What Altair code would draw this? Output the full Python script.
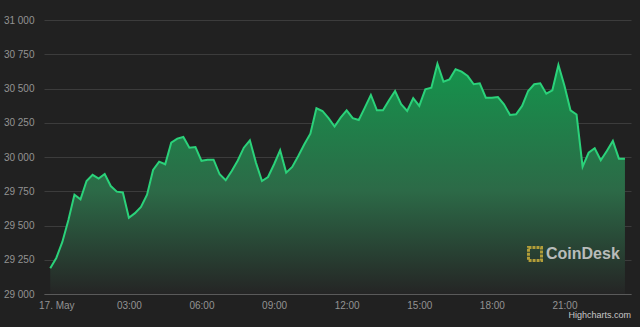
import altair as alt
import pandas as pd

# ---- data (BTC price, 15-minute samples) ----
start_time = "2022-05-16 23:45"
prices = [
    29188, 29263, 29380, 29540, 29725, 29691, 29825, 29870, 29842, 29876,
    29788, 29747, 29741, 29557, 29590, 29635, 29725, 29905, 29966, 29947,
    30105, 30134, 30146, 30068, 30073, 29972, 29980, 29980, 29874, 29830,
    29898, 29975, 30068, 30122, 29959, 29825, 29854, 29947, 30049, 29886,
    29927, 30007, 30093, 30170, 30356, 30336, 30283, 30222, 30287, 30341,
    30283, 30270, 30360, 30453, 30341, 30341, 30414, 30482, 30385, 30336,
    30429, 30373, 30494, 30506, 30681, 30550, 30567, 30640, 30623, 30591,
    30531, 30538, 30433, 30433, 30438, 30385, 30307, 30312, 30373, 30482,
    30531, 30538, 30462, 30487, 30672, 30520, 30341, 30310, 29930, 30031,
    30064, 29976, 30044, 30117, 29988, 29988,
]
y_ticks = [29000, 29250, 29500, 29750, 30000, 30250, 30500, 30750, 31000]
x_tick_times = ["2022-05-17 00:00", "2022-05-17 03:00", "2022-05-17 06:00",
                "2022-05-17 09:00", "2022-05-17 12:00", "2022-05-17 15:00",
                "2022-05-17 18:00", "2022-05-17 21:00"]
x_domain_times = ["2022-05-16 23:29:30", "2022-05-17 23:45"]

times = pd.date_range(start=pd.Timestamp(start_time, tz="UTC"), periods=len(prices), freq="15min")
df = pd.DataFrame({"time": times.strftime("%Y-%m-%dT%H:%M:%SZ"), "price": prices})


def ms(t):
    return int(pd.Timestamp(t, tz="UTC").value // 10**6)


tick_ms = [ms(t) for t in x_tick_times]
dom_ms = [ms(t) for t in x_domain_times]

FONT = "Liberation Sans"
LABEL = "#939393"

x_enc = alt.X(
    "time:T",
    scale=alt.Scale(type="utc", domain=dom_ms, nice=False),
    axis=alt.Axis(
        values=tick_ms,
        labelExpr="utcFormat(datum.value, '%H:%M') == '00:00' ? utcFormat(datum.value, '%d. %b') : utcFormat(datum.value, '%H:%M')",
        grid=False, ticks=False, tickSize=0, domain=True, domainColor="#5a5a5a",
        labelColor=LABEL, labelFont=FONT, labelFontSize=10, labelPadding=6,
        labelOverlap=False, labelFlush=False, title=None,
    ),
)
y_enc = alt.Y(
    "price:Q",
    scale=alt.Scale(domain=[29000, 31000], nice=False, zero=False),
    axis=alt.Axis(
        values=y_ticks,
        labelExpr="replace(format(datum.value, ','), ',', ' ')",
        grid=True, gridColor="#3c3c3c", gridWidth=1,
        ticks=False, tickSize=0, domain=False,
        labelColor=LABEL, labelFont=FONT, labelFontSize=10, labelPadding=10,
        labelFlush=False, title=None,
    ),
)

base = alt.Chart(df)

area = base.mark_area(
    color=alt.Gradient(
        gradient="linear",
        stops=[
            alt.GradientStop(color="#14944c", offset=0),
            alt.GradientStop(color="#2c6a47", offset=0.55),
            alt.GradientStop(color="#252525", offset=1),
        ],
        x1=1, x2=1, y1=0, y2=1,
    ),
).encode(x=x_enc, y=y_enc, y2=alt.datum(29000))

line = base.mark_line(color="#2bd27a", strokeWidth=2).encode(x=x_enc, y=y_enc)

logo_icon = alt.Chart(pd.DataFrame({"k": [0]})).mark_point(
    shape="square", filled=False, stroke="#c2a83a", strokeWidth=3, strokeDash=[3, 1], size=170, opacity=0.9
).encode(x=alt.value(491), y=alt.value(234))

logo_text = alt.Chart(pd.DataFrame({"t": ["CoinDesk"]})).mark_text(
    font=FONT, fontSize=16, fontWeight="bold", color="#d2d2d2", opacity=0.85,
    align="left", baseline="middle",
).encode(x=alt.value(502), y=alt.value(234), text="t:N")

credit = alt.Chart(pd.DataFrame({"t": ["Highcharts.com"]})).mark_text(
    font=FONT, fontSize=9, color="#c8c8c8", align="right", baseline="middle",
).encode(x=alt.value(587), y=alt.value(295), text="t:N")

chart = alt.layer(area, line, logo_icon, logo_text, credit).properties(
    width=587, height=274,
    padding={"left": 44, "top": 20, "right": 9, "bottom": 33},
    autosize=alt.AutoSizeParams(type="none"),
    background="#212121",
).configure_view(stroke=None)

chart.save("out.html", embed_options={"renderer": "svg", "actions": False})
